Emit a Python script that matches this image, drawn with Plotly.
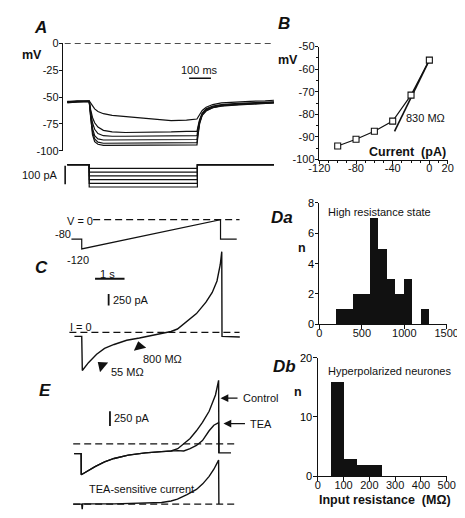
import plotly.graph_objects as go

W, H = 465, 518
def X(px): return px / W
def Y(py): return 1 - py / H

FONT = "Liberation Sans, Arial, Helvetica, sans-serif"
INK = "#111111"
LW = 1.3

# ---------------- Panel A : voltage responses to current steps ----------------
a_time_ms = [-5, 40, 95, 102, 110, 120, 135, 160, 200, 260, 330, 400, 470, 540,
             588, 592, 600, 612, 630, 660, 700, 760, 830, 900, 940]
a_v1 = [-54.5, -53.5, -53.5, -56, -58.5, -61, -63.5, -65.5, -67, -68, -69.5, -71, -72, -71.5,
        -70.5, -69, -66, -62.5, -59.5, -57, -55.5, -54.5, -54, -53.5, -53]
a_v2 = [-54, -54, -54, -62, -69, -74, -78, -81, -82.5, -83, -83, -83, -82.5, -82,
        -82, -78, -71, -65, -61, -58.5, -57, -56, -55.5, -55, -54.5]
a_v3 = [-54.5, -54, -54, -65, -74, -80, -84, -86, -86.5, -86.5, -86.5, -86.5, -86, -86,
        -86, -80, -72, -65.5, -61.5, -59, -57.5, -56.5, -56, -55.5, -55]
a_v4 = [-55, -54, -54, -68, -79, -86, -89, -90, -90, -90, -90, -90, -89.5, -89.5,
        -89.5, -83, -73, -66, -62, -59.5, -58, -57, -56.5, -55.5, -55]
a_v5 = [-55, -54.5, -54, -70, -82, -89, -92, -93, -93, -93, -93, -93, -93, -92.5,
        -92.5, -85, -74, -66.5, -62.5, -60, -58, -57, -56.5, -56, -55.5]
a_v6 = [-55.5, -54.5, -54, -72, -85, -91.5, -94, -95, -95, -95, -95, -95, -95, -94.5,
        -94.5, -87, -75, -67, -63, -60, -58.5, -57.5, -56.5, -56, -55.5]
a_voltage_traces = [a_v1, a_v2, a_v3, a_v4, a_v5, a_v6]
a_step_pA = [-20, -40, -60, -80, -100, -120]
a_step_on_ms, a_step_off_ms, a_start_ms, a_end_ms = 95, 590, -5, 940
a_vticks = [-100, -75, -50, -25, 0]

# ---------------- Panel B : I-V relation ----------------
b_current = [0, -20, -40, -60, -80, -100]
b_voltage = [-56, -71.5, -83, -87.5, -91, -94]
b_fit_R = 0.83          # GOhm  (mV / pA)
b_fit_V0 = -56
b_fit_I = [-38, 0.5]
b_xticks = [-120, -80, -40, 0, 20]
b_yticks = [-100, -90, -80, -70, -60, -50]

# ---------------- Panel Da / Db : histograms ----------------
da_bin_left = [200, 300, 400, 500, 600, 700, 800, 900, 1000, 1100, 1200]
da_counts = [1, 1, 2, 2, 7, 5, 3, 2, 3, 0, 1]
da_bin_w = 100
da_xticks = [0, 500, 1000, 1500]
da_yticks = [0, 2, 4, 6, 8]
db_bin_left = [50, 100, 150, 200]
db_counts = [16, 3, 2, 2]
db_bin_w = 50
db_xticks = [0, 100, 200, 300, 400, 500]
db_yticks = [0, 10, 20]

# ---------------- Panel C : ramp protocol and current ----------------
c_prot_t = [-0.35, 0, 0, 4.71, 4.71, 5.26]
c_prot_v = [-80, -80, -120, 0, -80, -80]
c_t = [-0.248, 0.0, 0.02, 0.235, 0.506, 0.774, 1.097, 1.526, 1.958, 2.387, 2.816, 3.03,
       3.248, 3.571, 3.894, 4.216, 4.429, 4.59, 4.70, 4.752, 4.76, 5.365]
c_i = [-85, -85, -833, -656, -476, -348, -263, -171, -122, -71, -15, 21,
       75, 235, 412, 662, 876, 1126, 1481, 1767, -85, -100]

# ---------------- Panel E : control, TEA, TEA-sensitive ----------------
e_ctrl_t = [-0.258, -0.02, -0.016, 0.129, 0.452, 0.774, 1.097, 1.58, 2.161, 2.71, 3.032,
            3.258, 3.452, 3.677, 3.893, 4.097, 4.323, 4.539, 4.645, 4.655, 5.065]
e_ctrl_i = [-167, -167, -528, -483, -388, -308, -250, -192, -155, -133, -122,
            -83, 0, 92, 222, 367, 555, 833, 1083, -155, -155]
e_tea_t = [-0.258, -0.02, -0.016, 0.129, 0.452, 0.774, 1.097, 1.58, 2.161, 2.71, 3.032,
           3.258, 3.462, 3.677, 3.893, 4.097, 4.323, 4.484, 4.645, 4.655]
e_tea_i = [-167, -167, -528, -483, -388, -308, -250, -192, -155, -133, -122,
           -117, -122, -83, -28, 55, 222, 317, 362, -155]
e_sens_t = [-0.29, 0.0, 0.016, 0.032, 1.097, 2.065, 2.71, 3.032, 3.248, 3.571, 3.893,
            4.106, 4.323, 4.484, 4.645, 4.655]
e_sens_i = [0, 0, -88, 3, 3, 12, 28, 53, 83, 162, 250, 345, 473, 595, 750, 0]

fig = go.Figure()

def line(x, y, xa, ya, width=LW, dash=None, color=INK):
    fig.add_trace(go.Scatter(x=x, y=y, xaxis=xa, yaxis=ya, mode="lines",
                             line=dict(color=color, width=width, dash=dash),
                             hoverinfo="skip", showlegend=False))

# Panel A
line([a_start_ms - 12, a_end_ms - 14], [0, 0], "x", "y", width=1.2, dash="6px,4px")
for v in a_voltage_traces:
    line(a_time_ms, v, "x", "y", width=1.2)
for s in a_step_pA:
    line([a_start_ms, a_step_on_ms, a_step_on_ms, a_step_off_ms, a_step_off_ms, a_end_ms],
         [0, 0, s, s, 0, 0], "x", "y2", width=1.2)
line([552, 652], [-32.5, -32.5], "x", "y", width=1.6)          # 100 ms bar
line([-15, -15], [-5, -105], "x", "y2", width=1.6)             # 100 pA bar

# Panel B
fit_v = [b_fit_V0 + b_fit_R * i for i in b_fit_I]
line(b_fit_I, fit_v, "x2", "y3", width=1.6)
fig.add_trace(go.Scatter(x=b_current, y=b_voltage, xaxis="x2", yaxis="y3", mode="lines+markers",
                         line=dict(color=INK, width=1.2),
                         marker=dict(symbol="square", size=6, color="white",
                                     line=dict(color=INK, width=1.1)),
                         hoverinfo="skip", showlegend=False))

# Panel Da, Db
fig.add_trace(go.Bar(x=[l + da_bin_w / 2 for l in da_bin_left], y=da_counts,
                     width=[da_bin_w] * len(da_counts), xaxis="x3", yaxis="y4",
                     marker=dict(color=INK, line=dict(width=0)), hoverinfo="skip", showlegend=False))
fig.add_trace(go.Bar(x=[l + db_bin_w / 2 for l in db_bin_left], y=db_counts,
                     width=[db_bin_w] * len(db_counts), xaxis="x4", yaxis="y5",
                     marker=dict(color=INK, line=dict(width=0)), hoverinfo="skip", showlegend=False))

# Panel C
line([0.387, 5.355], [0, 0], "x5", "y6", width=1.2, dash="7px,4px")
line(c_prot_t, c_prot_v, "x5", "y6", width=1.2)
line([-0.419, 5.355], [0, 0], "x5", "y7", width=1.2, dash="7px,4px")
line(c_t, c_i, "x5", "y7", width=1.4)
line([0.452, 1.452], [1175, 1175], "x5", "y7", width=1.8)      # 1 s bar
line([0.913, 0.913], [840, 590], "x5", "y7", width=1.8)        # 250 pA bar
fig.add_trace(go.Scatter(x=[0.687, 1.958], y=[-726, -310], xaxis="x5", yaxis="y7", mode="markers",
                         marker=dict(symbol="triangle-up", size=11, color=INK, angle=[-50, -13],
                                     line=dict(width=0)),
                         hoverinfo="skip", showlegend=False))

# Panel E
line([-0.29, 5.19], [0, 0], "x5", "y8", width=1.2, dash="7px,4px")
line(e_ctrl_t, e_ctrl_i, "x5", "y8", width=1.4)
line(e_tea_t, e_tea_i, "x5", "y8", width=1.4)
line([-0.29, 5.19], [0, 0], "x5", "y9", width=1.2, dash="7px,4px")
line(e_sens_t, e_sens_i, "x5", "y9", width=1.4)
line([0.958, 0.958], [555, 305], "x5", "y8", width=1.8)        # 250 pA bar

axis_common = dict(showline=True, linecolor=INK, linewidth=1.3, ticks="outside", ticklen=3.5,
                   tickwidth=1.2, tickcolor=INK, showgrid=False, zeroline=False,
                   tickfont=dict(family=FONT, size=11, color=INK), fixedrange=True,
                   showticklabels=True)
xax = dict(axis_common, ticklabelstandoff=-5)
yax = dict(axis_common, ticklabelstandoff=-2)
minor_common = dict(ticks="outside", ticklen=2.5, tickwidth=1, tickcolor=INK, showgrid=False)
hidden = dict(visible=False, fixedrange=True)

def lab(vals):
    return [str(v) for v in vals]

DA_Y0, DA_Y1 = 317.7, 193.3     # pixel rows of the Da y-axis ends
DB_Y0, DB_Y1 = 473.3, 351.7     # pixel rows of the Db y-axis ends

fig.update_layout(
    width=W, height=H, margin=dict(l=0, r=0, t=0, b=0),
    paper_bgcolor="white", plot_bgcolor="rgba(0,0,0,0)", showlegend=False, bargap=0,
    xaxis=dict(domain=[X(46.7), X(270)], range=[(46.7 - 52) / 0.23, (270 - 52) / 0.23],
               anchor="y", **hidden),
    yaxis=dict(domain=[Y(140), Y(30)], range=[-100, 0], anchor="x",
               tickvals=a_vticks, ticktext=lab(a_vticks), **yax),
    yaxis2=dict(domain=[Y(182), Y(150)], range=[-(182 - 154.3) / 0.19, (154.3 - 150) / 0.19],
                anchor="x", **hidden),
    xaxis2=dict(domain=[X(316), X(451)], range=[-120, 20], anchor="y3",
                tickvals=b_xticks, ticktext=lab(b_xticks),
                minor=dict(dtick=10, tick0=0, **minor_common), **xax),
    yaxis3=dict(domain=[Y(149), Y(33.3)], range=[-100, -50], anchor="x2",
                tickvals=b_yticks, ticktext=lab(b_yticks),
                minor=dict(dtick=5, tick0=0, **minor_common), **yax),
    xaxis3=dict(domain=[X(316), X(450)], range=[0, 1500], anchor="y4",
                tickvals=da_xticks, ticktext=lab(da_xticks), **xax),
    yaxis4=dict(domain=[Y(DA_Y0), Y(DA_Y1)], range=[0, 8], anchor="x3",
                tickvals=da_yticks, ticktext=lab(da_yticks),
                **dict(yax, showticklabels=False)),
    xaxis4=dict(domain=[X(314.3), X(450)], range=[0, 500], anchor="y5",
                tickvals=db_xticks, ticktext=lab(db_xticks), **xax),
    yaxis5=dict(domain=[Y(DB_Y0), Y(DB_Y1)], range=[0, 20], anchor="x4",
                tickvals=db_yticks, ticktext=lab(db_yticks),
                **dict(yax, showticklabels=False)),
    xaxis5=dict(domain=[X(40), X(240)], range=[(40 - 66) / 31, (240 - 66) / 31], anchor="y6", **hidden),
    yaxis6=dict(domain=[Y(250), Y(200)], range=[-(250 - 210.5) / 0.25, (210.5 - 200) / 0.25],
                anchor="x5", **hidden),
    yaxis7=dict(domain=[Y(372), Y(235)], range=[-(372 - 326) / 0.0468, (326 - 235) / 0.0468],
                anchor="x5", **hidden),
    yaxis8=dict(domain=[Y(510), Y(368)], range=[-(510 - 440) / 0.06, (440 - 368) / 0.06],
                anchor="x5", **hidden),
    yaxis9=dict(domain=[Y(512), Y(445)], range=[-(512 - 501.7) / 0.06, (501.7 - 445) / 0.06],
                anchor="x5", **hidden),
)

def text(px, py, s, size=11, bold=False, italic=False, xanchor="center", color=INK):
    t = s
    if bold:
        t = "<b>" + t + "</b>"
    if italic:
        t = "<i>" + t + "</i>"
    fig.add_annotation(x=X(px), y=Y(py), xref="paper", yref="paper", text=t, showarrow=False,
                       xanchor=xanchor, yanchor="middle",
                       font=dict(family=FONT, size=size, color=color))

# y tick labels of the histograms, placed beside their axis ticks
for v in da_yticks:
    text(312, DA_Y0 - v * (DA_Y0 - DA_Y1) / da_yticks[-1], str(v), 11, xanchor="right", color="#000000")
for v in db_yticks:
    text(310.3, DB_Y0 - v * (DB_Y0 - DB_Y1) / db_yticks[-1], str(v), 11, xanchor="right", color="#000000")

# panel letters
text(23, 14, "A", 17, True, True)
text(279, 10, "B", 17, True, True)
text(24, 260, "C", 17, True, True)
text(290, 208, "Da", 17, True, True, "right")
text(293, 361, "Db", 17, True, True, "right")
text(27.5, 385, "E", 17, True, True)

# A texts
text(14, 42, "mV", 12.5, True)
text(190, 57.3, "100 ms", 11)
text(43, 165, "100 pA", 11, xanchor="right")
# B texts
text(283.5, 47, "mV", 12.5, True)
text(428, 106.7, "830 M\u03a9", 11)
text(408.5, 141.5, "Current  (pA)", 12.5, True)
# Da / Db texts
text(298, 240, "n", 12.5, True)
text(323.3, 202.7, "High resistance state", 11, xanchor="left")
text(294, 386.7, "n", 12.5, True)
text(323.3, 365, "Hyperpolarized neurones", 11, xanchor="left")
text(385, 497.5, "Input resistance  (M\u03a9)", 12.5, True)
# C texts
text(64, 212, "V = 0", 11)
text(46.7, 225, "-80", 11)
text(61.7, 251.7, "-120", 11)
text(93, 266, "1 s", 11)
text(97, 292.3, "250 pA", 11, xanchor="left")
text(65, 320, "I = 0", 11)
text(95, 366.7, "55 M\u03a9", 11, xanchor="left")
text(128.3, 352.7, "800 M\u03a9", 11, xanchor="left")
# E texts
text(98.3, 414, "250 pA", 11, xanchor="left")
text(129, 486, "TEA-sensitive current", 11)
text(233.3, 393.3, "Control", 11, xanchor="left")
text(241, 419.3, "TEA", 11, xanchor="left")

# E arrows
for tip_t, tip_i, ax in [(4.71, 778, 18.5), (4.81, 345, 23)]:
    fig.add_annotation(x=tip_t, y=tip_i, xref="x5", yref="y8", text="", showarrow=True,
                       ax=ax, ay=0, arrowhead=2, arrowsize=1.2, arrowwidth=1.3, arrowcolor=INK,
                       standoff=0, startstandoff=0)

fig.write_html("out.html")
